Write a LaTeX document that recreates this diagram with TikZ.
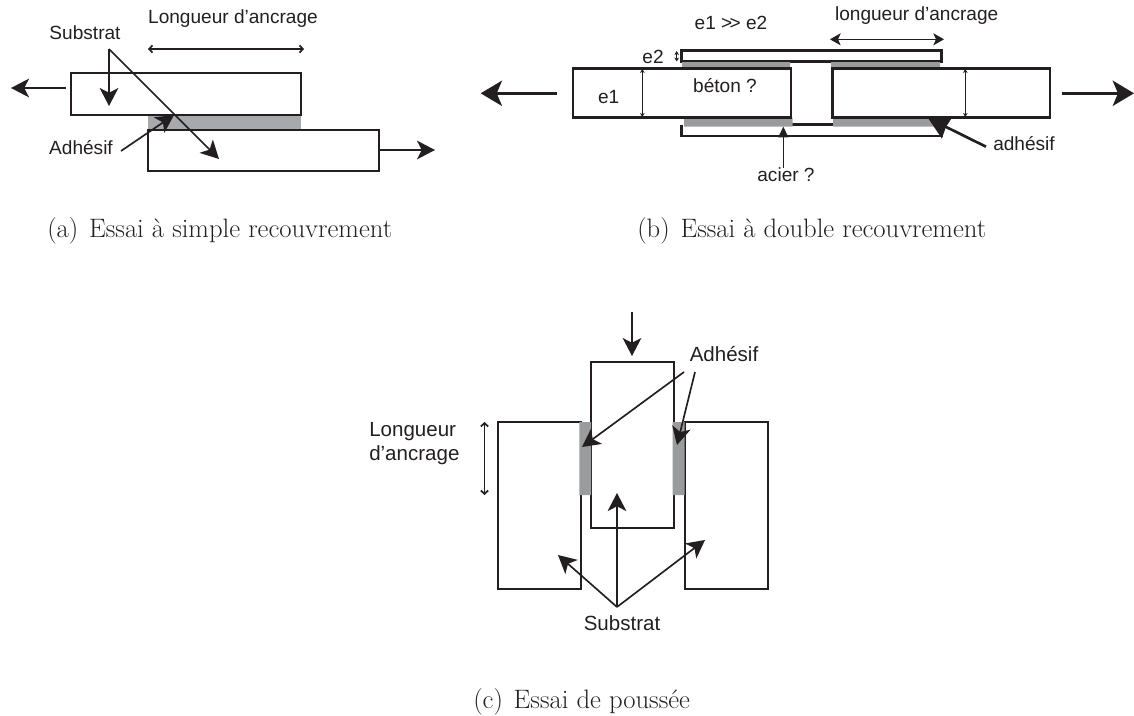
\documentclass[tikz,border=0pt]{standalone}
\usepackage{fontspec}
\setmainfont{Liberation Sans}
\newfontfamily\capfont{Latin Modern Roman}
\usepackage{xcolor}
\usetikzlibrary{arrows.meta}
\definecolor{colle}{HTML}{A7A9AC}
\definecolor{collef}{HTML}{999B9C}
\definecolor{encre}{HTML}{231F20}
\tikzset{
  fleche/.style={draw=encre, line width=1.25pt, -{Stealth[inset=3.5pt,length=13.5pt,width=14pt]}},
  grande/.style={draw=encre, line width=2pt, -{Stealth[inset=4pt,length=16pt,width=19pt]}},
  cote/.style={draw=encre, line width=1.3pt, {Straight Barb[length=2.5pt,width=5.5pt]}-{Straight Barb[length=2.5pt,width=5.5pt]}},
  fine/.style={draw=encre, line width=.6pt, {Stealth[length=3pt,width=3.5pt]}-{Stealth[length=3pt,width=3.5pt]}},
  moyen/.style={draw=encre, line width=.9pt, {Stealth[inset=2pt,length=8pt,width=9pt]}-{Stealth[inset=2pt,length=8pt,width=9pt]}},
  pointe/.style={draw=encre, line width=.9pt, -{Stealth[inset=0pt,length=8pt,width=7.5pt]}},
  colleb/.style={draw=encre, line width=2pt, -{Stealth[inset=1pt,length=16pt,width=18pt]}},
  bloc/.style={draw=encre, line width=1.5pt},
  epais/.style={draw=encre, line width=2pt},
  lab/.style={font=\fontsize{14.3}{17.25}\selectfont, text=encre, inner sep=0pt},
  labc/.style={font=\fontsize{15.4}{17.5}\selectfont, text=encre, inner sep=0pt},
  legende/.style={font=\capfont\fontsize{20}{24}\selectfont, text=encre, inner sep=0pt, anchor=base west}
}
\begin{document}
\begin{tikzpicture}[x=.75pt,y=-.75pt]
\useasboundingbox (0,0) rectangle (1134,715);
% (a) simple recouvrement
\fill[colle] (148,115) rectangle (301,130);
\draw[bloc] (70.5,73) rectangle (301,115);
\draw[bloc] (148,130) rectangle (379,171);
\node[lab] (longA) at (233,19) {Longueur d'ancrage};
\node[lab] (subA) at (85,33) {Substrat};
\node[lab] (adhA) at (81,148) {Adhésif};
\coordinate (subAo) at (109,49);
\coordinate (subA1) at (109,106);
\coordinate (subA2) at (219,159);
\coordinate (adhAo) at (121,151);
\coordinate (adhA1) at (174,115);
\coordinate (dimA1) at (148,49);
\coordinate (dimA2) at (304,49);
\coordinate (forA1) at (66,88);
\coordinate (forA2) at (11,88);
\coordinate (forA3) at (379,150);
\coordinate (forA4) at (435,150);
\draw[fleche] (subAo) -- (subA1);
\draw[fleche] (subAo) -- (subA2);
\draw[fleche] (adhAo) -- (adhA1);
\draw[cote] (dimA1) -- (dimA2);
\draw[fleche] (forA1) -- (forA2);
\draw[fleche] (forA3) -- (forA4);
\node[legende] (capA) at (47,237) {(a)\kern2pt{} Essai à simple recouvrement};
% (b) double recouvrement
\draw[epais] (681.7,50.7) rectangle (941.7,61.7);
\draw[epais] (681.7,124.5) -- (681.7,136) -- (941.7,136) -- (941.7,124.5);
\draw[epais] (792,124.7) -- (833,124.7);
\fill[collef] (682,62) rectangle (790,68.5) (831,62) rectangle (940,68.5);
\fill[collef] (684,117.7) rectangle (792.7,126.7) (833,117.7) rectangle (935,126.7);
\draw[epais] (573,68.5) rectangle (791,117.7);
\draw[epais] (832.3,68.5) rectangle (1050,117.7);
\node[lab] (ee) at (731,23) {e1 >\kern-2pt> e2};
\node[lab] (longB) at (916.7,15.7) {longueur d'ancrage};
\node[lab] (e2) at (653,57) {e2};
\node[lab] (e1) at (608.7,97) {e1};
\node[lab] (beton) at (725,86) {béton ?};
\node[lab] (adhB) at (1024,144) {adhésif};
\node[lab] (acier) at (786,175) {acier ?};
\coordinate (dimB1) at (830,39.3);
\coordinate (dimB2) at (944,39.3);
\coordinate (dimB3) at (642.3,69);
\coordinate (dimB4) at (642.3,117);
\coordinate (dimB5) at (965.3,69);
\coordinate (dimB6) at (965.3,117);
\coordinate (dimB7) at (676.7,51);
\coordinate (dimB8) at (676.7,61.5);
\coordinate (forB1) at (556.7,93.3);
\coordinate (forB2) at (480.7,93.3);
\coordinate (forB3) at (1061.7,93.3);
\coordinate (forB4) at (1134,93.3);
\coordinate (adhBo) at (986,146.7);
\coordinate (adhB1) at (928,118);
\coordinate (aciero) at (783.3,168);
\coordinate (acier1) at (783.3,126.7);
\draw[moyen] (dimB1) -- (dimB2);
\draw[fine] (dimB3) -- (dimB4);
\draw[fine] (dimB5) -- (dimB6);
\draw[fine] (dimB7) -- (dimB8);
\draw[grande] (forB1) -- (forB2);
\draw[grande] (forB3) -- (forB4);
\draw[colleb] (adhBo) -- (adhB1);
\draw[pointe] (aciero) -- (acier1);
\node[legende] (capB) at (637,237) {(b)\kern2pt{} Essai à double recouvrement};
% (c) poussee
\draw[bloc] (590.5,362) rectangle (673.5,528);
\draw[bloc] (497.5,422) rectangle (581,588.5);
\draw[bloc] (685,422) rectangle (768,588.5);
\fill[collef] (579.3,422) rectangle (591.2,495) (672.7,422) rectangle (684.7,495);
\node[labc] (adhC) at (724,354) {Adhésif};
\node[labc, align=left, anchor=west] (longC) at (369,443.5) {Longueur\\d'ancrage};
\node[labc] (subC) at (622,623) {Substrat};
\coordinate (forC1) at (632,312);
\coordinate (forC2) at (632,356);
\coordinate (adhCo1) at (684,372);
\coordinate (adhC1) at (582,447);
\coordinate (adhCo2) at (695,372);
\coordinate (adhC2) at (677,445);
\coordinate (subCo) at (617,607);
\coordinate (subC1) at (617,493);
\coordinate (subC2) at (558,555);
\coordinate (subC3) at (705,540);
\coordinate (dimC1) at (484.5,422);
\coordinate (dimC2) at (484.5,495);
\draw[fleche] (forC1) -- (forC2);
\draw[fleche] (adhCo1) -- (adhC1);
\draw[fleche] (adhCo2) -- (adhC2);
\draw[fleche] (subCo) -- (subC1);
\draw[fleche] (subCo) -- (subC2);
\draw[fleche] (subCo) -- (subC3);
\draw[cote] (dimC1) -- (dimC2);
\node[legende] (capC) at (473,708) {(c)\kern2pt{} Essai de poussée};
\end{tikzpicture}
\end{document}
